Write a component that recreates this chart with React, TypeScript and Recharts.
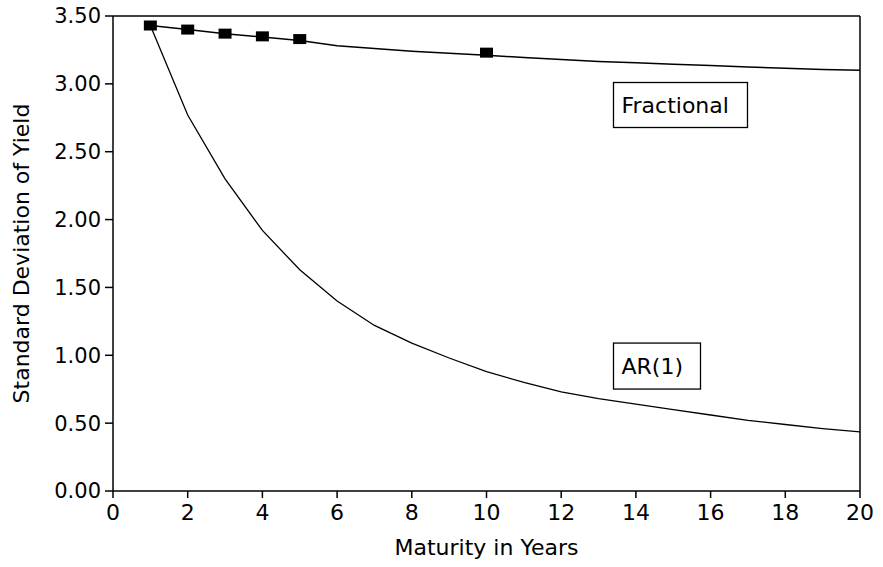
import React from 'react';
import {
  ComposedChart, Line, Scatter, XAxis, YAxis, ReferenceLine, ReferenceDot, Label,
} from 'recharts';

// maturities (years) and the two model curves
const maturities = [1, 2, 3, 4, 5, 6, 7, 8, 9, 10, 11, 12, 13, 14, 15, 16, 17, 18, 19, 20];
const fractional = [3.43, 3.40, 3.37, 3.345, 3.32, 3.28, 3.26, 3.24, 3.225, 3.21, 3.195, 3.18, 3.165, 3.155, 3.145, 3.135, 3.125, 3.115, 3.105, 3.10];
const ar1 = [3.43, 2.77, 2.30, 1.92, 1.63, 1.40, 1.22, 1.09, 0.98, 0.88, 0.80, 0.73, 0.68, 0.64, 0.60, 0.56, 0.52, 0.49, 0.46, 0.435];

// observed standard deviations (square markers)
const obsMaturities = [1, 2, 3, 4, 5, 10];
const obsValues = [3.43, 3.40, 3.37, 3.35, 3.33, 3.23];

const xTicks = [0, 2, 4, 6, 8, 10, 12, 14, 16, 18, 20];
const yTicks = [0, 0.5, 1, 1.5, 2, 2.5, 3, 3.5];

const FONT = 'DejaVu Sans';

const curveData = maturities.map((m, i) => ({ m, fractional: fractional[i], ar1: ar1[i] }));
const obsData = obsMaturities.map((m, i) => ({ m, obs: obsValues[i] }));

const Square = (props: any) => {
  const { cx, cy } = props;
  return <rect x={cx - 6.5} y={cy - 5} width={13} height={10} fill="#000" />;
};

const boxShape = (text: string, w: number, h: number) => (props: any) => {
  const { cx, cy } = props;
  return (
    <g>
      <rect x={cx} y={cy} width={w} height={h} fill="#fff" stroke="#000" strokeWidth={1.3} />
      <text x={cx + 8} y={cy + h / 2 + 8} fontFamily={FONT} fontSize={22} fill="#000">{text}</text>
    </g>
  );
};

export default function App() {
  return (
    <div style={{ width: 883, height: 567, background: '#fff' }}>
      <style>{'body{margin:0}'}</style>
      <ComposedChart
        width={883}
        height={567}
        data={curveData}
        margin={{ top: 16, right: 23, bottom: 0, left: 0 }}
      >
        <XAxis
          dataKey="m"
          type="number"
          domain={[0, 20]}
          ticks={xTicks}
          height={76}
          tickSize={7}
          tickMargin={6}
          stroke="#000"
          strokeWidth={1.5}
          tick={{ fill: '#000', fontFamily: FONT, fontSize: 22 }}
        >
          <Label value="Maturity in Years" position="insideBottom" offset={12} fill="#000" fontFamily={FONT} fontSize={22} />
        </XAxis>
        <YAxis
          type="number"
          domain={[0, 3.5]}
          ticks={yTicks}
          width={113}
          tickSize={8}
          tickMargin={4}
          stroke="#000"
          strokeWidth={1.5}
          tickFormatter={(v: number) => v.toFixed(2)}
          tick={{ fill: '#000', fontFamily: FONT, fontSize: 21 }}
        >
          <Label value="Standard Deviation of Yield" angle={-90} position="insideLeft" offset={21} style={{ textAnchor: 'middle' }} fill="#000" fontFamily={FONT} fontSize={22} />
        </YAxis>
        <ReferenceLine y={3.5} stroke="#000" strokeWidth={1.5} />
        <ReferenceLine x={20} stroke="#000" strokeWidth={1.5} />
        <Line dataKey="fractional" stroke="#000" strokeWidth={1.5} dot={false} isAnimationActive={false} />
        <Line dataKey="ar1" stroke="#000" strokeWidth={1.3} dot={false} isAnimationActive={false} />
        <Scatter data={obsData} dataKey="obs" shape={<Square />} isAnimationActive={false} />
        <ReferenceDot x={13.4} y={3.01} r={0} shape={boxShape('Fractional', 134, 45)} />
        <ReferenceDot x={13.4} y={1.09} r={0} shape={boxShape('AR(1)', 87, 46)} />
      </ComposedChart>
    </div>
  );
}
